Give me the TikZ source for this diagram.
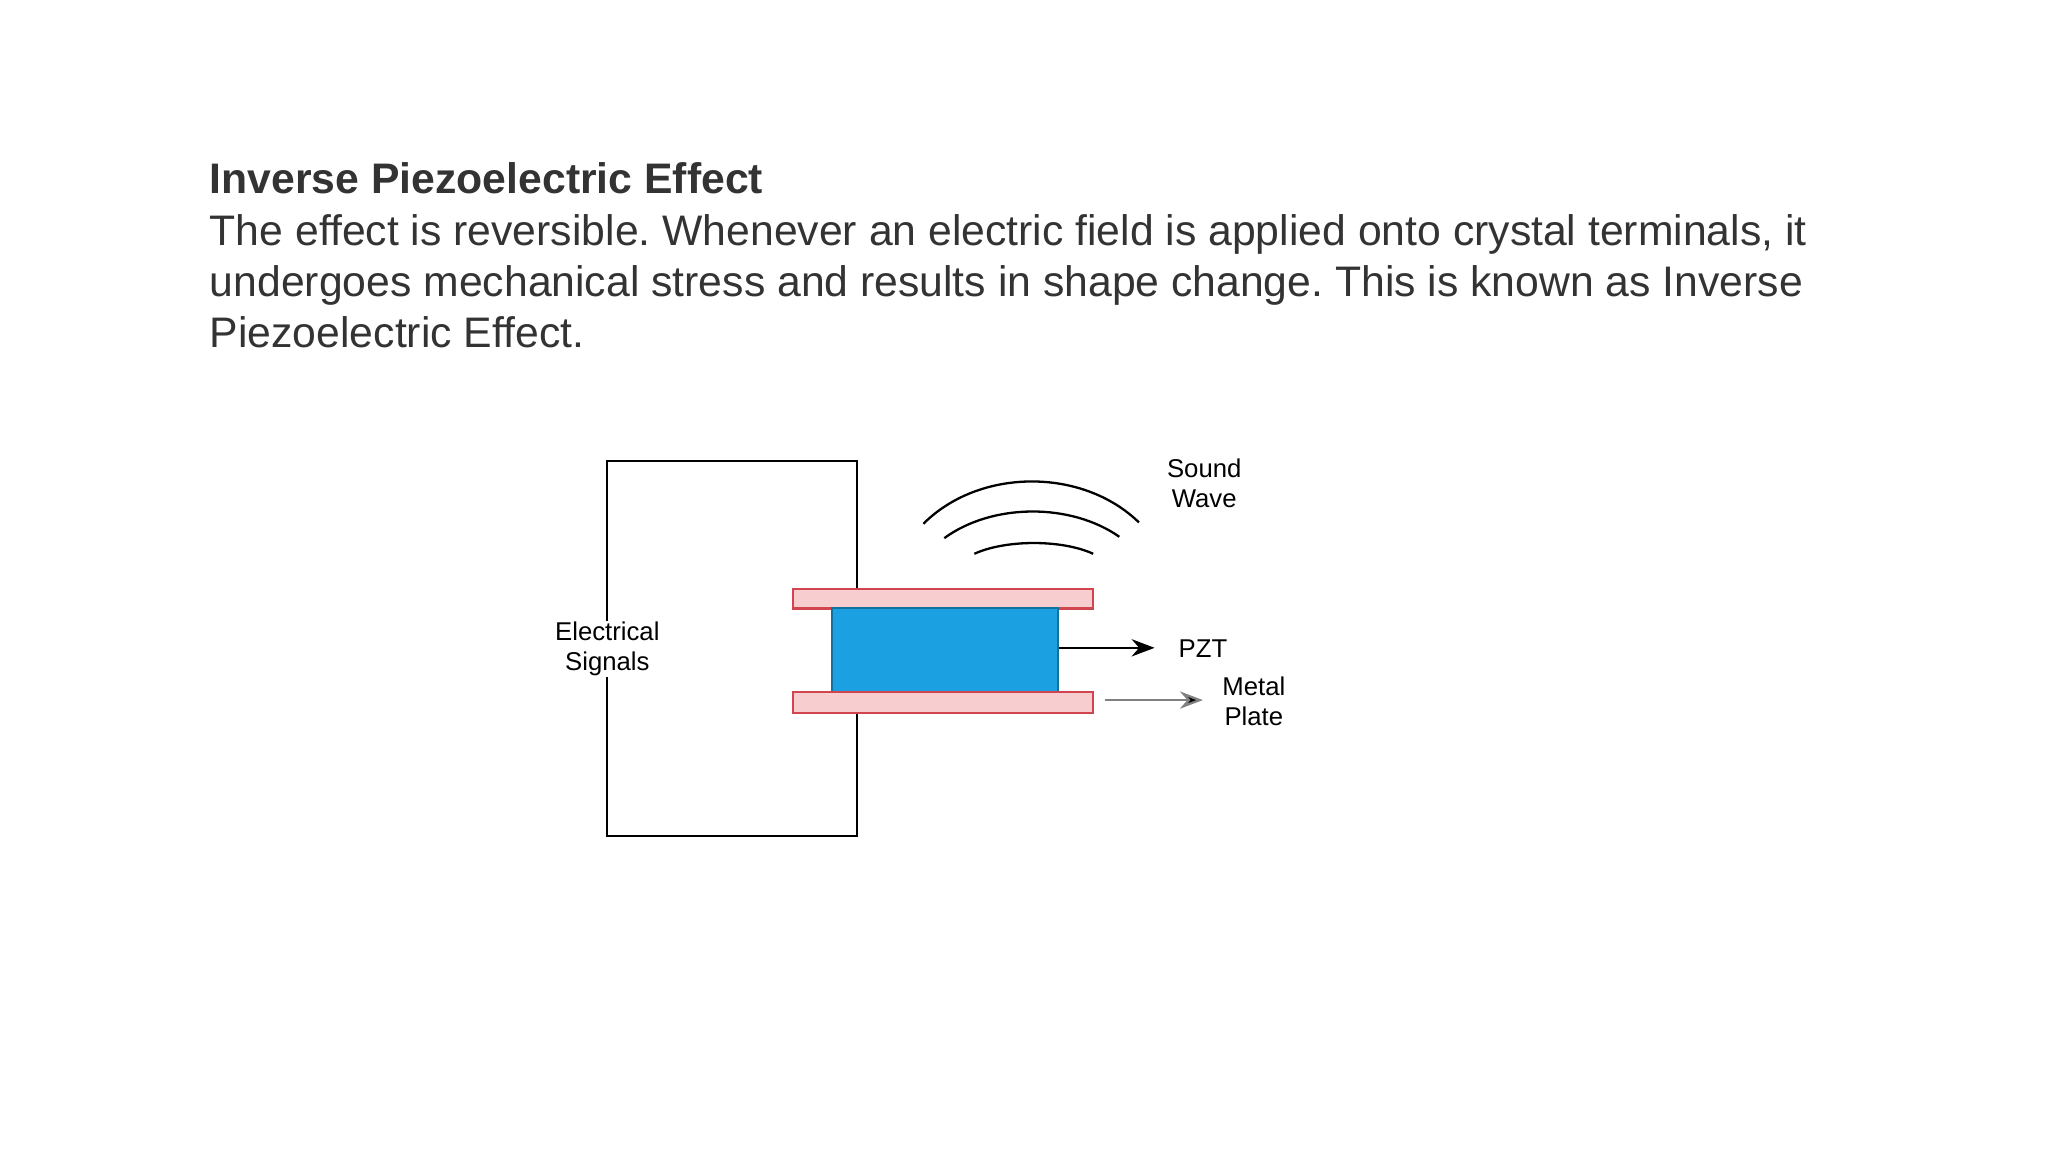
\documentclass[tikz,border=0pt]{standalone}
\usepackage{fontspec}
\setmainfont{Liberation Sans}
\frenchspacing
\usetikzlibrary{positioning,arrows.meta}
\definecolor{txtgray}{HTML}{333333}
\definecolor{platepink}{HTML}{F8CDD0}
\definecolor{platered}{HTML}{D0454F}
\definecolor{pztblue}{HTML}{1BA1E2}
\tikzset{
  plate/.style={draw=platered, fill=platepink, line width=0.5pt},
  lbl/.style={font=\fontsize{5.6}{6.6}\selectfont, align=center, inner sep=0pt},
  wire/.style={line width=0.5pt}
}
\begin{document}
\begin{tikzpicture}[x=0.01cm, y=-0.01cm]
  \useasboundingbox (0,0) rectangle (1568,882);
  % heading text
  \node[anchor=base west, inner sep=0pt, text=txtgray, font=\fontsize{9.3}{11.1}\selectfont\bfseries] (title) at (160,148) {Inverse Piezoelectric Effect};
  \node[anchor=base west, inner sep=0pt, text=txtgray, font=\fontsize{9.3}{11.1}\selectfont, align=left] (body) at (160,266)
    {The effect is reversible. Whenever an electric field is applied onto crystal terminals, it\\
     undergoes mechanical stress and results in shape change. This is known as Inverse\\
     Piezoelectric Effect.};
  % plates and crystal
  \node[plate, anchor=north west, minimum width=2.3cm, minimum height=0.15cm, inner sep=0pt] (topplate) at (606,450) {};
  \node[draw=pztblue!70!black, fill=pztblue, anchor=north west, minimum width=1.73cm, minimum height=0.64cm, inner sep=0pt] (pzt) at (636,465) {};
  \node[plate, anchor=north west, minimum width=2.3cm, minimum height=0.16cm, inner sep=0pt] (botplate) at (606,529) {};
  % circuit
  \coordinate (tl) at (465,353);
  \coordinate (tr) at (656,353);
  \coordinate (bl) at (465,640);
  \coordinate (br) at (656,640);
  \node[lbl] (elec) at (465,497) {Electrical\\Signals};
  \draw[wire] (elec.north) -- (tl) -- (tr) -- (tr |- topplate.north);
  \draw[wire] (elec.south) -- (bl) -- (br) -- (br |- botplate.south);
  % labels and arrows
  \node[lbl] (pztlbl) at (921,497) {PZT};
  \node[lbl] (metal) at (960,537) {Metal\\Plate};
  \node[lbl] (sound) at (922,370) {Sound\\Wave};
  \coordinate (arr1) at (884,496);
  \coordinate (arr2s) at (846,536);
  \coordinate (arr2e) at (921,536);
  \draw[wire, -{Stealth[length=5pt]}] (pzt.east |- arr1) -- (arr1);
  \draw[wire, draw=gray, -{Stealth[length=5pt, fill=black]}] (arr2s) -- (arr2e);
  % sound wave
  \draw[wire] (707,401) .. controls (750,358) and (829,358) .. (872,400);
  \draw[wire] (723,412) .. controls (760,385) and (820,385) .. (857,411);
  \draw[wire] (746,424) .. controls (770,413) and (813,413) .. (837,424);
\end{tikzpicture}
\end{document}
